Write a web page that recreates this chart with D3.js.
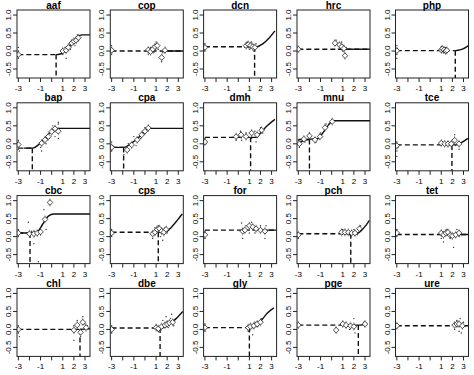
<!DOCTYPE html>
<html>
<head>
<meta charset="utf-8">
<script src="https://cdn.jsdelivr.net/npm/d3@7"></script>
<style>
  body { margin: 0; background: #fff; }
  text { font-family: "Liberation Sans", Arial, sans-serif; }
</style>
</head>
<body>
<svg width="474" height="375"></svg>
<script>
// panel names, in reading order
const panelNames = ["aaf", "cop", "dcn", "hrc", "php",
                    "bap", "cpa", "dmh", "mnu", "tce",
                    "cbc", "cps", "for", "pch", "tet",
                    "chl", "dbe", "gly", "pge", "ure"];

// baseline level (dashed horizontal) and threshold (dashed vertical, null = none)
const baselines = [-0.1, 0.0, 0.12, 0.05, 0.01,
                   -0.12, -0.1, 0.18, 0.12, -0.03,
                   0.1, 0.12, 0.18, 0.08, 0.06,
                   0.0, 0.04, 0.05, 0.12, 0.1];
const thresholds = [0.4, null, 1.47, null, 2.26,
                    -1.74, -1.92, 1.11, -2.0, 1.96,
                    -1.95, 1.2, null, 1.72, null,
                    2.55, 1.36, 1.0, 2.4, null];

// fitted curve
const curves = [
  [[0.4,-0.1],[0.7,-0.09],[1.0,-0.05],[1.5,0.1],[2.0,0.28],[2.4,0.42],[2.8,0.45],[3.45,0.45]],
  [[1.8,0],[3.45,0]],
  [[1.47,0.12],[1.7,0.12],[2.2,0.2],[2.8,0.37],[3.3,0.56]],
  [[1.2,0.05],[3.45,0.05]],
  [[2.26,0.01],[2.5,0.02],[2.9,0.05],[3.45,0.15]],
  [[-2.5,-0.12],[-1.7,-0.12],[-1.2,-0.03],[-0.7,0.12],[-0.2,0.3],[0.2,0.4],[0.6,0.43],[3.45,0.43]],
  [[-3,-0.1],[-1.9,-0.1],[-1.3,0.0],[-0.6,0.17],[0.0,0.35],[0.35,0.43],[3.45,0.43]],
  [[1.11,0.18],[1.6,0.18],[2.0,0.3],[2.6,0.5],[3.3,0.68]],
  [[-3,0.0],[-2.5,0.1],[-1.9,0.13],[-1.3,0.14],[-0.8,0.3],[-0.3,0.52],[0.1,0.64],[3.45,0.64]],
  [[1.96,-0.03],[2.3,-0.03],[2.8,0.03],[3.4,0.15]],
  [[-3,0.1],[-1.9,0.1],[-1.3,0.13],[-0.8,0.35],[-0.3,0.57],[0.2,0.63],[3.45,0.63]],
  [[1.2,0.12],[1.8,0.12],[2.4,0.27],[2.9,0.45],[3.35,0.63]],
  [[2.5,0.18],[3.45,0.18]],
  [[1.72,0.08],[2.2,0.08],[2.7,0.18],[3.1,0.32],[3.4,0.45]],
  [[2.6,0.06],[3.45,0.06]],
  [[2.55,0.0],[3.45,0.02]],
  [[1.36,0.04],[1.5,0.04],[2.2,0.15],[2.8,0.3],[3.4,0.5]],
  [[1.0,0.05],[1.3,0.05],[2.0,0.22],[2.6,0.45],[3.2,0.6]],
  [[2.4,0.12],[2.6,0.12],[3.0,0.15]],
  [[2.9,0.1],[3.45,0.1]]
];

// group means (open diamonds)
const means = [
  [[-3,-0.1],[1.0,0.0],[1.3,0.02],[1.5,0.1],[1.8,0.22],[2.0,0.27],[2.2,0.3],[2.4,0.37]],
  [[-3,0.02],[0.3,0.03],[0.5,-0.02],[0.7,0.05],[0.9,0.12],[1.1,0.15],[1.5,-0.18],[1.8,0.02]],
  [[-3,0.1],[0.7,0.15],[0.9,0.18],[1.1,0.15],[1.3,0.12],[1.5,0.1]],
  [[-3,0.05],[0.3,0.22],[0.7,0.17],[0.9,0.12],[1.1,0.07],[1.2,-0.13]],
  [[-3,0.01],[1.0,0.03],[1.1,0.06],[1.25,0.03],[1.4,0.0],[1.5,0.02]],
  [[-3,-0.02],[-0.9,0.02],[-0.6,0.11],[-0.3,0.2],[0.0,0.34],[0.3,0.42],[0.6,0.35]],
  [[-3,-0.1],[-1.6,-0.17],[-1.2,-0.03],[-0.7,0.11],[-0.3,0.25],[0.0,0.35],[0.3,0.44]],
  [[-3,0.05],[-0.2,0.2],[0.25,0.25],[0.7,0.2],[1.2,0.3],[1.7,0.25],[2.1,0.38]],
  [[-2.9,0.0],[-2.5,0.13],[-2.0,0.22],[-1.5,0.11],[-1.05,0.2],[-0.6,0.45],[0.05,0.62]],
  [[-3,-0.05],[1.0,0.02],[1.3,0.0],[1.6,0.0],[1.9,0.0],[2.2,0.1],[2.6,0.0]],
  [[-3,0.1],[-2.0,0.08],[-1.6,0.08],[-1.3,0.1],[-1.0,0.13],[-0.6,0.48],[-0.15,0.95]],
  [[-3,0.1],[0.7,0.08],[0.9,0.12],[1.1,0.2],[1.3,0.22],[1.5,0.15],[1.7,0.12],[1.9,0.2]],
  [[-3,0.05],[0.4,0.15],[0.6,0.18],[1.0,0.3],[1.3,0.27],[1.6,0.22],[2.0,0.18],[2.4,0.15]],
  [[-3,0.05],[0.9,0.12],[1.2,0.12],[1.5,0.12],[1.8,0.1],[2.1,0.1],[2.5,0.22]],
  [[-3,0.1],[1.0,0.1],[1.2,0.05],[1.4,0.1],[1.6,0.12],[1.8,0.04],[2.0,0.02],[2.3,0.05],[2.6,0.1]],
  [[-3,0.0],[2.0,-0.02],[2.3,0.12],[2.6,-0.08],[2.8,0.2],[3.1,0.05]],
  [[-3,0.0],[1.0,0.05],[1.2,0.02],[1.5,0.08],[1.8,0.12],[2.0,0.15],[2.2,0.18],[2.5,0.2]],
  [[-3,0.05],[0.9,0.05],[1.1,0.08],[1.4,0.1],[1.7,0.15],[2.0,0.2]],
  [[-3,0.12],[0.4,-0.02],[1.0,0.15],[1.3,0.12],[1.7,0.1],[2.0,0.08],[3.0,0.15]],
  [[-3,0.1],[2.2,0.12],[2.4,0.15],[2.6,0.15],[2.9,0.1]]
];

// individual observations (small dots)
const dots = [
  [[-3,0.1],[-3,-0.2],[-3,0.0],[-3,-0.15],[1.0,-0.1],[1.2,0.1],[1.3,-0.2],[1.6,0.2],[1.9,0.3],[2.1,0.15],[2.3,0.45],[2.4,0.3],[1.7,0.05]],
  [[-3,0.15],[-3,-0.1],[-3,0.05],[0.3,-0.1],[0.5,0.1],[0.8,-0.05],[1.0,0.25],[1.2,0.05],[1.5,-0.3],[1.6,-0.05]],
  [[-3,0.2],[-3,0.0],[0.8,0.25],[1.0,0.05],[1.2,0.25],[1.4,0.0],[1.6,0.2],[0.6,0.1]],
  [[0.4,0.3],[0.6,0.05],[0.9,0.25],[1.0,0.0],[1.3,0.1]],
  [[-3,0.15],[-3,-0.1],[-3,-0.2],[1.0,0.12],[1.2,-0.05],[1.4,0.1],[1.6,0.05]],
  [[-3,0.1],[-3,-0.15],[-2.9,-0.2],[-1.0,-0.1],[-0.9,-0.2],[-0.5,0.0],[-0.2,0.15],[0.1,0.5],[0.3,0.2],[0.6,0.55],[0.6,0.15],[0.6,0.6]],
  [[-3,0.05],[-3,-0.2],[-2.9,-0.05],[-1.9,-0.3],[-1.5,0.0],[-1.0,0.2],[-0.8,-0.05],[-0.4,0.15],[0.0,0.45],[-0.2,0.3]],
  [[-3,0.15],[-2.9,0.0],[-0.2,0.1],[0.2,0.35],[0.3,0.1],[0.7,0.3],[1.2,0.15],[1.6,0.05],[2.0,0.45],[2.2,0.3],[1.5,0.35]],
  [[-3,0.1],[-2.9,-0.1],[-2.4,0.05],[-2.0,0.3],[-1.4,0.05],[-1.0,0.3],[-0.5,0.55]],
  [[-3,0.05],[-3,-0.2],[-3,-0.35],[-2.9,-0.1],[2.2,0.25],[2.3,-0.05],[2.6,-0.15],[1.1,0.05]],
  [[-3,0.2],[-3,0.0],[-2.1,0.4],[-1.6,-0.2],[-1.2,-0.7],[-0.9,0.3],[-0.7,0.75],[-0.5,0.2],[-0.2,0.9],[-1.8,0.15]],
  [[-3,0.2],[-3,0.0],[0.7,-0.05],[0.9,0.25],[1.2,0.3],[1.4,0.0],[1.6,-0.1],[1.8,0.25],[2.0,0.1]],
  [[-3,0.15],[-3,-0.05],[0.3,0.38],[0.4,-0.05],[0.7,0.3],[1.0,0.1],[1.2,0.4],[1.5,0.1],[2.0,0.3],[2.4,-0.05],[2.5,0.3]],
  [[-3,0.1],[-3,-0.05],[1.0,0.2],[1.6,0.05],[2.0,0.2],[2.3,0.05],[2.6,0.3]],
  [[-3,0.2],[-3,0.0],[1.0,-0.05],[1.2,-0.15],[1.5,0.2],[1.8,-0.05],[2.1,-0.3],[2.4,0.2],[2.6,0.0]],
  [[-3,0.1],[-3,-0.1],[-2.9,-0.2],[2.0,-0.3],[2.0,0.1],[2.3,0.25],[2.6,-0.2],[2.8,0.35],[3.0,0.15],[3.2,0.1]],
  [[-3,0.1],[-3,-0.1],[-2.9,0.05],[1.0,0.12],[1.2,-0.05],[1.6,0.25],[1.9,0.35],[2.1,0.05],[2.3,0.3],[2.6,0.1],[2.4,0.42]],
  [[-3,0.15],[-3,-0.05],[0.9,-0.05],[1.1,0.15],[1.3,-0.15],[1.5,0.2],[1.8,0.1],[2.1,0.3]],
  [[0.4,0.05],[1.0,0.2],[1.6,0.0],[2.0,0.3],[2.1,-0.1],[2.9,0.2]],
  [[-3,0.15],[-3,0.05],[2.2,0.0],[2.4,0.25],[2.6,-0.05],[2.8,-0.1],[3.0,0.2],[2.7,0.3]]
];

const xTicks = [-3, -2, -1, 0, 1, 2, 3];
const xTickLabels = ["-3", "", "-1", "", "1", "2", "3"];
const yTicks = [-0.5, 0, 0.5, 1];
const yTickLabels = ["-0.5", "0.0", "0.5", "1.0"];

// layout
const colLefts = [17, 110.3, 203.6, 297, 395.5];
const rowTops = [10, 102.8, 195.6, 288.4];
const boxW = 73, boxH = 68;

const svg = d3.select("svg");

const x = d3.scaleLinear().domain([-3.12, 3.45]).range([0, boxW]);
const y = d3.scaleLinear().domain([-0.75, 1.14]).range([boxH, 0]);

const line = d3.line()
  .x(d => x(d[0]))
  .y(d => y(d[1]))
  .curve(d3.curveMonotoneX);

const diamond = "M0,-2.8L2.8,0L0,2.8L-2.8,0Z";

panelNames.forEach((name, i) => {
  const col = i % 5, row = Math.floor(i / 5);
  const g = svg.append("g")
    .attr("transform", `translate(${colLefts[col]},${rowTops[row]})`);

  g.append("clipPath").attr("id", "clip" + i)
    .append("rect").attr("width", boxW).attr("height", boxH);

  const plot = g.append("g").attr("clip-path", `url(#clip${i})`);

  // observations
  plot.append("g").selectAll("circle")
    .data(dots[i])
    .join("circle")
    .attr("cx", d => x(d[0]))
    .attr("cy", d => y(d[1]))
    .attr("r", 0.7)
    .attr("fill", "#333");

  // fitted curve
  plot.append("path")
    .attr("d", line(curves[i]))
    .attr("fill", "none")
    .attr("stroke", "#111")
    .attr("stroke-width", 1.4);

  // dashed baseline + threshold
  const t = thresholds[i];
  const b = baselines[i];
  plot.append("line")
    .attr("x1", x(-3)).attr("x2", t === null ? x(3.45) : x(t))
    .attr("y1", y(b)).attr("y2", y(b))
    .attr("stroke", "#111").attr("stroke-width", 1.4)
    .attr("stroke-dasharray", "5,3");
  if (t !== null) {
    plot.append("line")
      .attr("x1", x(t)).attr("x2", x(t))
      .attr("y1", y(b)).attr("y2", boxH)
      .attr("stroke", "#111").attr("stroke-width", 1.4)
      .attr("stroke-dasharray", "5,3");
  }

  // means with small bars
  const m = plot.append("g").selectAll("g")
    .data(means[i])
    .join("g")
    .attr("transform", d => `translate(${x(d[0])},${y(d[1])})`);
  m.append("line")
    .attr("y1", -4).attr("y2", 4)
    .attr("stroke", "#444").attr("stroke-width", 0.6);
  m.append("path")
    .attr("d", diamond)
    .attr("fill", "#fff")
    .attr("stroke", "#222")
    .attr("stroke-width", 0.8);

  // frame
  g.append("rect")
    .attr("width", boxW).attr("height", boxH)
    .attr("fill", "none")
    .attr("stroke", "#222")
    .attr("stroke-width", 1);

  // x axis
  const xa = g.append("g").attr("transform", `translate(0,${boxH})`);
  xa.selectAll("line")
    .data(xTicks)
    .join("line")
    .attr("x1", d => x(d)).attr("x2", d => x(d))
    .attr("y1", 0).attr("y2", 4)
    .attr("stroke", "#222");
  xa.selectAll("text")
    .data(xTicks)
    .join("text")
    .attr("x", d => x(d))
    .attr("y", 13)
    .attr("text-anchor", "middle")
    .attr("font-size", 8)
    .text((d, j) => xTickLabels[j]);

  // y axis
  const ya = g.append("g");
  ya.selectAll("line")
    .data(yTicks)
    .join("line")
    .attr("x1", -4).attr("x2", 0)
    .attr("y1", d => y(d)).attr("y2", d => y(d))
    .attr("stroke", "#222");
  ya.selectAll("text")
    .data(yTicks)
    .join("text")
    .attr("transform", d => `translate(-6,${y(d)}) rotate(-90)`)
    .attr("text-anchor", "middle")
    .attr("font-size", 8)
    .text((d, j) => yTickLabels[j]);

  // title
  g.append("text")
    .attr("x", boxW / 2)
    .attr("y", -1.5)
    .attr("text-anchor", "middle")
    .attr("font-size", 10)
    .attr("font-weight", "bold")
    .text(name);
});
</script>
</body>
</html>
